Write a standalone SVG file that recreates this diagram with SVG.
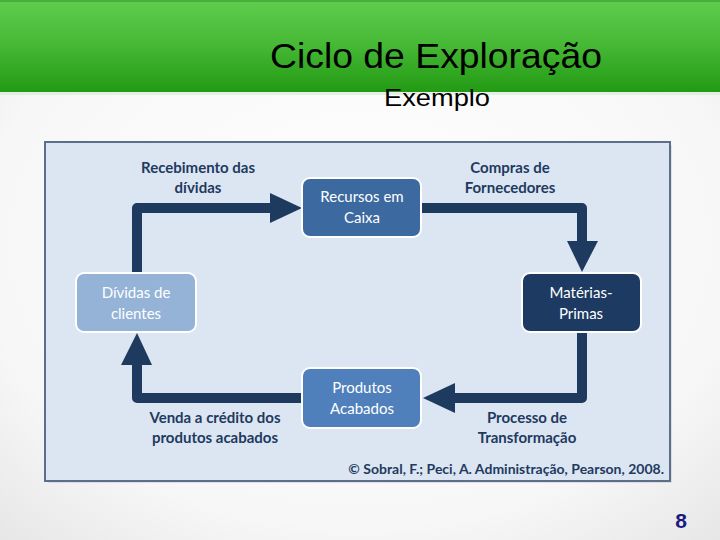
<svg xmlns="http://www.w3.org/2000/svg" width="720" height="540" viewBox="0 0 720 540">
<defs>
<linearGradient id="hdr" x1="0" y1="0" x2="0" y2="1">
<stop offset="0" stop-color="#5fcd4f"/>
<stop offset="0.5" stop-color="#45b834"/>
<stop offset="1" stop-color="#239a14"/>
</linearGradient>
<radialGradient id="bg" cx="0.5" cy="0.45" r="0.75">
<stop offset="0" stop-color="#ffffff"/>
<stop offset="0.7" stop-color="#f7f7f7"/>
<stop offset="1" stop-color="#e6e6e6"/>
</radialGradient>
</defs>
<style>
.lbl{font-family:Lato,"Open Sans","Liberation Sans",sans-serif;font-weight:bold;font-size:15px;fill:#1f3a5f;text-anchor:middle}
.nt{font-family:Lato,"Open Sans","Liberation Sans",sans-serif;font-size:15px;fill:#ffffff;text-anchor:middle}
.node{stroke:#ffffff;stroke-width:2}
.conn{fill:none;stroke:#1f3a5f;stroke-width:10;stroke-linejoin:round}
.head{fill:#1f3a5f}
</style>
<rect width="720" height="540" fill="url(#bg)"/>
<rect x="0" y="0" width="720" height="92" fill="url(#hdr)"/>
<rect x="0" y="0" width="720" height="2" fill="#3a9a2c" opacity="0.6"/>
<rect x="0" y="92" width="720" height="3" fill="#d8e8d4" opacity="0.6"/>
<text x="436" y="68" font-family="'Liberation Sans',Arial,sans-serif" font-size="35" text-anchor="middle" textLength="332" lengthAdjust="spacingAndGlyphs" fill="#000">Ciclo de Exploração</text>
<text x="437" y="106" font-family="'Liberation Sans',Arial,sans-serif" font-size="24.5" text-anchor="middle" textLength="106" lengthAdjust="spacingAndGlyphs" fill="#000">Exemplo</text>

<g id="panel">
<rect x="48" y="145" width="624" height="338" fill="#c8c8c8" opacity="0.5"/>
<rect x="45" y="142" width="625" height="339" fill="#dce6f2" stroke="#5b6f8d" stroke-width="2"/>
</g>

<g id="connectors">
<path class="conn" d="M137,272 V208 H272"/>
<path class="head" d="M270,193 L302,208 L270,223 Z"/>
<path class="conn" d="M421,208 H582 V243"/>
<path class="head" d="M567,241 L582,272 L598,241 Z"/>
<path class="conn" d="M582,332 V398 H453"/>
<path class="head" d="M455,383 L423,398 L455,413 Z"/>
<path class="conn" d="M302,398 H137 V362"/>
<path class="head" d="M121,365 L137,333 L152,365 Z"/>
</g>

<g id="recursos">
<rect class="node" x="302" y="178" width="119" height="59" rx="8" fill="#3b69a0"/>
<text class="nt" x="362" y="202">Recursos em</text>
<text class="nt" x="362" y="223">Caixa</text>
</g>
<g id="materias">
<rect class="node" x="522" y="273" width="119" height="59" rx="8" fill="#1d3a62"/>
<text class="nt" x="581" y="298">Matérias-</text>
<text class="nt" x="581" y="319">Primas</text>
</g>
<g id="produtos">
<rect class="node" x="302" y="368" width="119" height="60" rx="8" fill="#4f80bc"/>
<text class="nt" x="362" y="393">Produtos</text>
<text class="nt" x="362" y="414">Acabados</text>
</g>
<g id="dividas">
<rect class="node" x="76" y="273" width="120" height="59" rx="8" fill="#95b3d7"/>
<text class="nt" x="136" y="298">Dívidas de</text>
<text class="nt" x="136" y="319">clientes</text>
</g>

<g id="labels">
<text class="lbl" x="198" y="173">Recebimento das</text>
<text class="lbl" x="198" y="193">dívidas</text>
<text class="lbl" x="510" y="173">Compras de</text>
<text class="lbl" x="510" y="193">Fornecedores</text>
<text class="lbl" x="215" y="423">Venda a crédito dos</text>
<text class="lbl" x="215" y="443">produtos acabados</text>
<text class="lbl" x="527" y="423">Processo de</text>
<text class="lbl" x="527" y="443">Transformação</text>
<text class="lbl" x="664" y="474" style="text-anchor:end;font-size:14px">© Sobral, F.; Peci, A. Administração, Pearson, 2008.</text>
</g>
<text x="681" y="528" font-family="'Liberation Sans',Arial,sans-serif" font-weight="bold" font-size="21" text-anchor="middle" fill="#1a1a80">8</text>
</svg>
